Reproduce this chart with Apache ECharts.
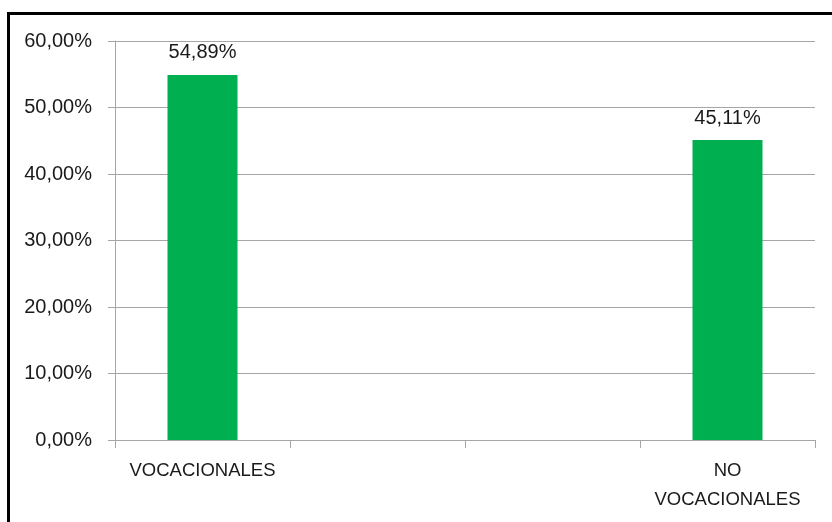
<!DOCTYPE html>
<html>
<head>
<meta charset="utf-8">
<script src="https://cdn.jsdelivr.net/npm/echarts@6/dist/echarts.min.js"></script>
<style>
html,body{margin:0;padding:0;background:#fff;}
#main{width:832px;height:522px;}
</style>
</head>
<body>
<div id="main"></div>
<script>
var categories = ['VOCACIONALES', '', '', 'NO\nVOCACIONALES'];
var values = [54.89, null, null, 45.11];
var yMin = 0, yMax = 60, yStep = 10;

function pct(v){ return v.toFixed(2).replace('.', ',') + '%'; }

var chart = echarts.init(document.getElementById('main'));
chart.setOption({
  animation: false,
  backgroundColor: '#ffffff',
  graphic: [{
    type: 'rect',
    shape: {x: 8.5, y: 13.5, width: 900, height: 600},
    style: {fill: 'none', stroke: '#000', lineWidth: 3},
    silent: true
  }],
  grid: {left: 115, right: 17, top: 41, bottom: 82},
  xAxis: {
    type: 'category',
    data: categories,
    boundaryGap: true,
    axisLine: {show: true, lineStyle: {color: '#a6a6a6', width: 1}},
    axisTick: {show: true, length: 8, alignWithLabel: false, lineStyle: {color: '#a6a6a6'}},
    axisLabel: {
      interval: 0,
      margin: 16,
      color: '#1a1a1a',
      fontFamily: 'Liberation Sans, Arial, sans-serif',
      fontSize: 18.5,
      lineHeight: 29,
      align: 'center'
    }
  },
  yAxis: {
    type: 'value',
    min: yMin, max: yMax, interval: yStep,
    axisLine: {show: true, lineStyle: {color: '#a6a6a6', width: 1}},
    axisTick: {show: true, length: 7, lineStyle: {color: '#a6a6a6'}},
    splitLine: {show: true, lineStyle: {color: '#a6a6a6', width: 1}},
    axisLabel: {
      margin: 23,
      color: '#1a1a1a',
      fontFamily: 'Liberation Sans, Arial, sans-serif',
      fontSize: 20,
      formatter: function(v){ return pct(v); }
    }
  },
  series: [{
    type: 'bar',
    data: values,
    barWidth: 70,
    itemStyle: {color: '#00B050'},
    label: {
      show: true,
      position: 'top',
      distance: 12,
      color: '#1a1a1a',
      fontFamily: 'Liberation Sans, Arial, sans-serif',
      fontSize: 20,
      formatter: function(p){ return pct(p.value); }
    }
  }]
});
</script>
</body>
</html>
